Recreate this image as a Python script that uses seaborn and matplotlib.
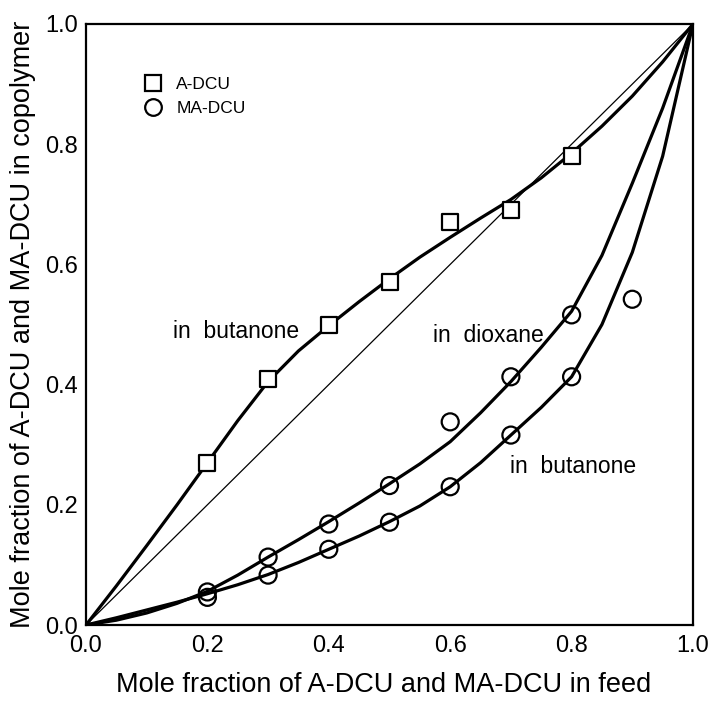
import numpy as np
import pandas as pd
import matplotlib
matplotlib.use("Agg")
import matplotlib.pyplot as plt
import seaborn as sns
from matplotlib.lines import Line2D
from matplotlib.ticker import MultipleLocator, FormatStrFormatter

sns.set_theme(style="white")
plt.rcParams["font.family"] = ["Liberation Sans", "DejaVu Sans"]
plt.rcParams["text.color"] = "black"
plt.rcParams["axes.labelcolor"] = "black"
plt.rcParams["xtick.color"] = "black"
plt.rcParams["ytick.color"] = "black"

# ---- measured data points ----
adcu_feed = [0.2, 0.3, 0.4, 0.5, 0.6, 0.7, 0.8]
adcu_copoly = [0.27, 0.41, 0.50, 0.57, 0.67, 0.69, 0.78]

madcu_diox_feed = [0.2, 0.3, 0.4, 0.5, 0.6, 0.7, 0.8]
madcu_diox_copoly = [0.055, 0.113, 0.168, 0.232, 0.338, 0.413, 0.516]

madcu_buta_feed = [0.2, 0.3, 0.4, 0.5, 0.6, 0.7, 0.8, 0.9]
madcu_buta_copoly = [0.046, 0.083, 0.126, 0.171, 0.230, 0.316, 0.413, 0.542]

# ---- fitted curves ----
curve_x = [0.0, 0.05, 0.1, 0.15, 0.2, 0.25, 0.3, 0.35, 0.4, 0.45, 0.5,
           0.55, 0.6, 0.65, 0.7, 0.75, 0.8, 0.85, 0.9, 0.95, 1.0]
curve_adcu = [0.0, 0.065, 0.132, 0.20, 0.27, 0.34, 0.405, 0.456, 0.498, 0.538, 0.576,
              0.612, 0.645, 0.677, 0.708, 0.744, 0.785, 0.83, 0.88, 0.937, 1.0]
curve_diox = [0.0, 0.008, 0.02, 0.036, 0.056, 0.083, 0.113, 0.142, 0.172, 0.203, 0.235,
              0.268, 0.305, 0.353, 0.405, 0.462, 0.522, 0.615, 0.735, 0.86, 1.0]
curve_buta = [0.0, 0.012, 0.025, 0.038, 0.052, 0.067, 0.084, 0.104, 0.126, 0.148, 0.172,
              0.198, 0.230, 0.270, 0.316, 0.362, 0.413, 0.50, 0.62, 0.78, 1.0]
diag = [0.0, 1.0]

fig = plt.figure(figsize=(7.12, 7.02), dpi=100)
ax = fig.add_axes([86 / 712, 1 - 625 / 702, 607 / 712, 601 / 702])

# diagonal
sns.lineplot(x=diag, y=diag, ax=ax, color="black", linewidth=0.9, sort=False)
# fitted curves
for cy in (curve_adcu, curve_diox, curve_buta):
    sns.lineplot(x=curve_x, y=cy, ax=ax, color="black", linewidth=2.3, sort=False)

# points
sns.scatterplot(x=adcu_feed, y=adcu_copoly, ax=ax, marker="s", s=125,
                facecolors="white", edgecolor="black", linewidth=1.6, zorder=3)
sns.scatterplot(x=madcu_diox_feed, y=madcu_diox_copoly, ax=ax, marker="o", s=150,
                facecolors="none", edgecolor="black", linewidth=1.6, zorder=3)
sns.scatterplot(x=madcu_buta_feed, y=madcu_buta_copoly, ax=ax, marker="o", s=150,
                facecolors="none", edgecolor="black", linewidth=1.6, zorder=3)

ax.set_xlim(0, 1)
ax.set_ylim(0, 1)
ax.xaxis.set_major_locator(MultipleLocator(0.2))
ax.xaxis.set_minor_locator(MultipleLocator(0.1))
ax.yaxis.set_major_locator(MultipleLocator(0.2))
ax.yaxis.set_minor_locator(MultipleLocator(0.1))
ax.xaxis.set_major_formatter(FormatStrFormatter("%.1f"))
ax.yaxis.set_major_formatter(FormatStrFormatter("%.1f"))
ax.tick_params(which="major", direction="in", length=7, width=1.4,
               labelsize=17, colors="black")
ax.tick_params(which="minor", direction="in", length=4.5, width=1.4, colors="black")
ax.tick_params(axis="x", which="major", pad=7)
ax.tick_params(axis="y", which="major", pad=6)
ax.tick_params(top=False, right=False, which="both")
for sp in ax.spines.values():
    sp.set_color("black")
    sp.set_linewidth(1.6)
    sp.set_visible(True)

ax.set_xlabel("Mole fraction of A-DCU and MA-DCU in feed", fontsize=19.5, labelpad=11)
ax.set_ylabel("Mole fraction of A-DCU and MA-DCU in copolymer", fontsize=19.5, labelpad=6)
ax.xaxis.label.set_x(0.49)

ax.text(0.143, 0.478, "in  butanone", fontsize=16.5, ha="left", va="baseline")
ax.text(0.572, 0.471, "in  dioxane", fontsize=16.5, ha="left", va="baseline")
ax.text(0.699, 0.253, "in  butanone", fontsize=16.5, ha="left", va="baseline")

handles = [
    Line2D([], [], marker="s", ls="none", mfc="none", mec="black", ms=11, mew=1.6, label="A-DCU"),
    Line2D([], [], marker="o", ls="none", mfc="none", mec="black", ms=12, mew=1.6, label="MA-DCU"),
]
ax.legend(handles=handles, loc="upper left", bbox_to_anchor=(0.07, 0.923), frameon=False,
          fontsize=12.5, handletextpad=0.35, labelspacing=0.5, borderaxespad=0)

fig.savefig("out.png", dpi=100)
